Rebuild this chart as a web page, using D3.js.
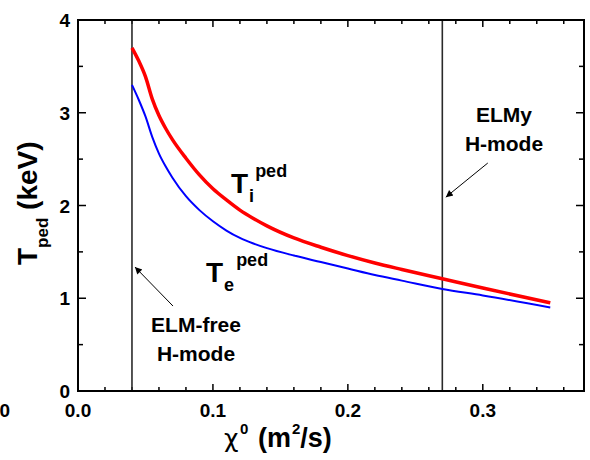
<!DOCTYPE html>
<html>
<head>
<meta charset="utf-8">
<script src="https://cdn.jsdelivr.net/npm/d3@7"></script>
<style>
  html, body { margin: 0; padding: 0; background: #fff; }
  svg { display: block; font-family: "Liberation Sans", Arial, sans-serif; font-weight: bold; }
</style>
</head>
<body>
<svg id="chart" width="590" height="460"></svg>
<script>
// Pedestal temperatures versus core diffusivity chi0 (m^2/s)
const chiValues = [0.04, 0.045, 0.05, 0.055, 0.06, 0.065, 0.07, 0.08, 0.09, 0.10, 0.11, 0.12, 0.13, 0.14, 0.16, 0.18, 0.20, 0.22, 0.24, 0.27, 0.30, 0.35];
const tiPed = [3.70, 3.56, 3.39, 3.15, 2.97, 2.83, 2.71, 2.51, 2.33, 2.18, 2.06, 1.95, 1.86, 1.78, 1.65, 1.55, 1.46, 1.38, 1.31, 1.21, 1.11, 0.95];
const tePed = [3.30, 3.14, 2.96, 2.74, 2.56, 2.42, 2.30, 2.10, 1.95, 1.83, 1.73, 1.65, 1.59, 1.54, 1.46, 1.39, 1.32, 1.25, 1.19, 1.10, 1.03, 0.90];

// Regime boundaries
const regimeLines = [0.04, 0.27];

// Tick values
const xMajorTicks = [0.0, 0.1, 0.2, 0.3];
const xTickLabels = ["0.0", "0.1", "0.2", "0.3"];
const yMajorTicks = [0, 1, 2, 3, 4];
const yTickLabels = ["0", "1", "2", "3", "4"];

const svg = d3.select("#chart");
const margin = { left: 78, right: 6, top: 20, bottom: 69 };
const W = 590, H = 460;

const x = d3.scaleLinear().domain([0, 0.375]).range([margin.left, W - margin.right]);
const y = d3.scaleLinear().domain([0, 4]).range([H - margin.bottom, margin.top]);

const x0 = x.range()[0], x1 = x.range()[1];
const y0 = y.range()[0], y1 = y.range()[1];

// Minor ticks
const xMinor = d3.range(0, 0.3751, 0.02).filter(v => Math.abs(v * 10 - Math.round(v * 10)) > 1e-6);
const yMinor = d3.range(0.5, 4, 1);

const tickG = svg.append("g").attr("stroke", "#000").attr("stroke-width", 1.5);
// bottom & top ticks (inward)
xMajorTicks.forEach(v => {
  tickG.append("line").attr("x1", x(v)).attr("x2", x(v)).attr("y1", y0).attr("y2", y0 - 7);
  tickG.append("line").attr("x1", x(v)).attr("x2", x(v)).attr("y1", y1).attr("y2", y1 + 7);
});
xMinor.forEach(v => {
  tickG.append("line").attr("x1", x(v)).attr("x2", x(v)).attr("y1", y0).attr("y2", y0 - 4);
  tickG.append("line").attr("x1", x(v)).attr("x2", x(v)).attr("y1", y1).attr("y2", y1 + 4);
});
// left & right ticks (inward)
yMajorTicks.forEach(v => {
  tickG.append("line").attr("x1", x0).attr("x2", x0 + 8).attr("y1", y(v)).attr("y2", y(v));
  tickG.append("line").attr("x1", x1).attr("x2", x1 - 8).attr("y1", y(v)).attr("y2", y(v));
});
yMinor.forEach(v => {
  tickG.append("line").attr("x1", x0).attr("x2", x0 + 5).attr("y1", y(v)).attr("y2", y(v));
  tickG.append("line").attr("x1", x1).attr("x2", x1 - 5).attr("y1", y(v)).attr("y2", y(v));
});

// Tick labels
svg.append("g").selectAll("text").data(xMajorTicks).join("text")
  .attr("x", d => x(d)).attr("y", 417)
  .attr("text-anchor", "middle").attr("font-size", 19)
  .text((d, i) => xTickLabels[i]);
svg.append("text").attr("x", -0.5).attr("y", 417).attr("font-size", 19).text("0");

svg.append("g").selectAll("text").data(yMajorTicks).join("text")
  .attr("x", 70).attr("y", d => y(d) + 7)
  .attr("text-anchor", "end").attr("font-size", 19)
  .text((d, i) => yTickLabels[i]);

// Regime boundary lines
svg.append("g").selectAll("line").data(regimeLines).join("line")
  .attr("x1", d => x(d)).attr("x2", d => x(d))
  .attr("y1", y0).attr("y2", y1)
  .attr("stroke", "#2a2a2a").attr("stroke-width", 1.6);

// Curves
const line = d3.line().x((d, i) => x(chiValues[i])).y(d => y(d)).curve(d3.curveMonotoneX);
svg.append("path").datum(tePed).attr("d", line)
  .attr("fill", "none").attr("stroke", "#0000ff").attr("stroke-width", 2);
svg.append("path").datum(tiPed).attr("d", line)
  .attr("fill", "none").attr("stroke", "#ff0000").attr("stroke-width", 3.5);

// Frame
svg.append("rect").attr("x", x0).attr("y", y1).attr("width", x1 - x0).attr("height", y0 - y1)
  .attr("fill", "none").attr("stroke", "#000").attr("stroke-width", 2);

// Curve labels
function tempLabel(px, py, sub) {
  const t = svg.append("text").attr("x", px).attr("y", py).attr("font-size", 28);
  t.append("tspan").text("T");
  t.append("tspan").attr("font-size", 18).attr("dy", 9).attr("dx", 1).text(sub);
  t.append("tspan").attr("font-size", 18).attr("dy", -25).attr("dx", sub === "i" ? 1 : 2).text("ped");
}
tempLabel(231, 193, "i");
tempLabel(206, 282, "e");

// Annotations
svg.append("defs").append("marker")
  .attr("id", "arrowhead").attr("viewBox", "0 0 10 10")
  .attr("refX", 10).attr("refY", 5)
  .attr("markerWidth", 9).attr("markerHeight", 7)
  .attr("markerUnits", "userSpaceOnUse")
  .attr("orient", "auto")
  .append("path").attr("d", "M0,0 L10,5 L0,10 z").attr("fill", "#000");

const arrows = [
  { from: [0.0704, 0.916], to: [0.0422, 1.337] },
  { from: [0.3037, 2.458], to: [0.2726, 2.09] }
];
svg.append("g").selectAll("line").data(arrows).join("line")
  .attr("x1", d => x(d.from[0])).attr("y1", d => y(d.from[1]))
  .attr("x2", d => x(d.to[0])).attr("y2", d => y(d.to[1]))
  .attr("stroke", "#000").attr("stroke-width", 1)
  .attr("marker-end", "url(#arrowhead)");

function noteLabel(cx, lines, baseline) {
  lines.forEach((s, i) => {
    svg.append("text").attr("x", cx).attr("y", baseline + i * 29)
      .attr("text-anchor", "middle").attr("font-size", 21).text(s);
  });
}
noteLabel(504, ["ELMy", "H-mode"], 122);
noteLabel(196, ["ELM-free", "H-mode"], 332);

// Axis titles
const yTitle = svg.append("text")
  .attr("transform", "translate(37,265) rotate(-90)")
  .attr("font-size", 28);
yTitle.append("tspan").text("T");
yTitle.append("tspan").attr("font-size", 17).attr("dy", 11).text("ped");
yTitle.append("tspan").attr("dy", -11).text(" (keV)");

const xTitle = svg.append("text").attr("y", 447).attr("font-size", 27);
xTitle.append("tspan").attr("x", 224).attr("font-family", "DejaVu Sans").attr("font-weight", "normal")
  .attr("font-size", 25).text("χ");
xTitle.append("tspan").attr("x", 240).attr("font-size", 15).attr("dy", -13).text("0");
xTitle.append("tspan").attr("x", 258).attr("dy", 13).text("(m");
xTitle.append("tspan").attr("font-size", 15).attr("dy", -13).attr("dx", 1).text("2");
xTitle.append("tspan").attr("dy", 13).text("/s)");
</script>
</body>
</html>
